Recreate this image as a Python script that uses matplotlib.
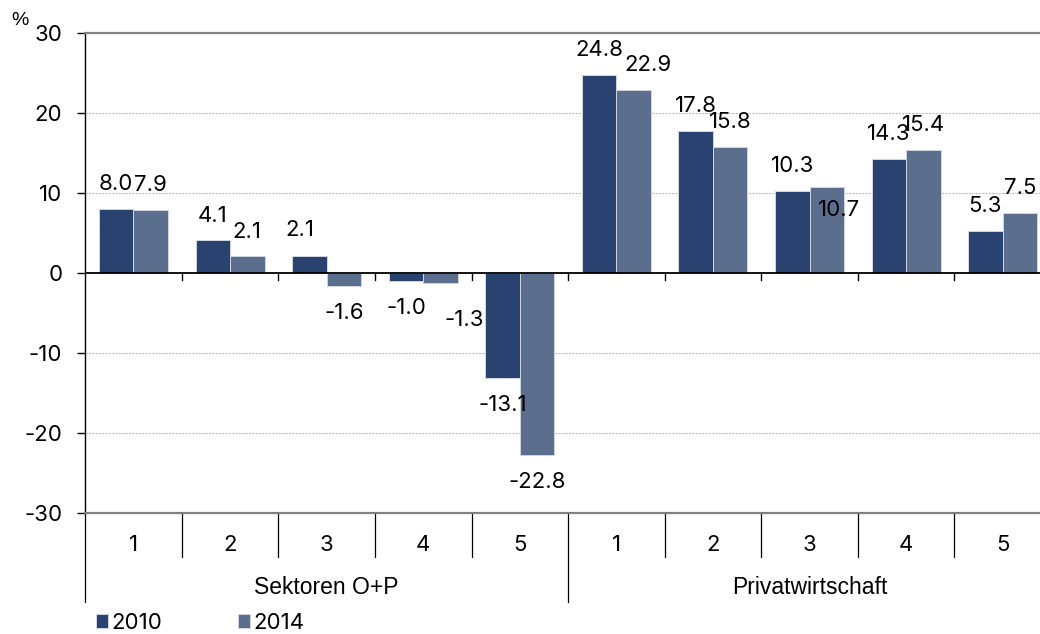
import matplotlib
matplotlib.use("Agg")
import matplotlib.pyplot as plt
import matplotlib.transforms as mtransforms
import numpy as np

plt.rcParams['font.family'] = ['Liberation Sans', 'DejaVu Sans']

# ---- data ----
groups = ["Sektoren O+P", "Privatwirtschaft"]
categories = ["1", "2", "3", "4", "5", "1", "2", "3", "4", "5"]
series_names = ["2010", "2014"]
values_2010 = [8.0, 4.1, 2.1, -1.0, -13.1, 24.8, 17.8, 10.3, 14.3, 5.3]
values_2014 = [7.9, 2.1, -1.6, -1.3, -22.8, 22.9, 15.8, 10.7, 15.4, 7.5]
yticks = [-30, -20, -10, 0, 10, 20, 30]

# ---- style ----
colors = ["#2A4270", "#5C6E8E"]
FS = 16.5
NUMFONT = ["Inter", "DejaVu Sans"]
NFS = 16
W, H = 1040, 634
# per-label pixel adjustments (series index, category index) -> (dx, dy)
label_adjust = {(0, 2): (-10, 2), (1, 5): (14, 0), (1, 7): (12, -47.5), (1, 3): (24, -9.5)}

fig = plt.figure(figsize=(W / 100, H / 100), dpi=100)
ax_left, ax_right, ax_top, ax_bottom = 85.2, 1051.0, 33.0, 513.0
ax = fig.add_axes([ax_left / W, 1 - ax_bottom / H, (ax_right - ax_left) / W, (ax_bottom - ax_top) / H])

n = len(categories)
x = np.arange(n)
bw = 0.357
allvals = [values_2010, values_2014]
offs = [-bw / 2, bw / 2]
for s, (vals, c, off) in enumerate(zip(allvals, colors, offs)):
    ax.bar(x + off, vals, width=bw, color=c, edgecolor="#d0d6e2", linewidth=0.7,
           label=series_names[s], zorder=3)
    for i, v in enumerate(vals):
        dx, dy = label_adjust.get((s, i), (0, 0))
        base = 24.5 if v >= 0 else -27
        ax.annotate(f"{v:.1f}", xy=(x[i] + off, v), xytext=(dx, base + dy),
                    textcoords="offset pixels", ha="center", va="center",
                    fontsize=NFS, family=NUMFONT, color="black", zorder=5, annotation_clip=False)

ax.set_xlim(-0.5, n - 0.5)
ax.set_ylim(-30, 30)
ax.set_yticks(yticks)
ax.set_yticklabels([str(t) for t in yticks], family=NUMFONT, fontsize=NFS)
ax.tick_params(axis="y", direction="out", length=6, width=1, pad=10.5, colors="black")
ax.tick_params(axis="x", bottom=False, labelbottom=False)

for t in [-20, -10, 10, 20]:
    ax.axhline(t, color="#bdbdbd", linestyle=(0, (2, 1)), linewidth=0.8, zorder=1)
ax.axhline(0, color="black", linewidth=1.3, zorder=4)

ax.spines["right"].set_visible(False)
ax.spines["top"].set_color("#808080")
ax.spines["top"].set_linewidth(1.6)
ax.spines["bottom"].set_color("#808080")
ax.spines["bottom"].set_linewidth(1.6)
ax.spines["left"].set_color("black")
ax.spines["left"].set_linewidth(1.0)

# small ticks on the zero line at category boundaries
for b in np.arange(0.5, n - 0.5, 1.0):
    ax.plot([b, b], [0, -0.85], color="black", linewidth=1.0, zorder=4, clip_on=False)

# category table below axis
trans = mtransforms.blended_transform_factory(ax.transData, ax.transAxes)
axh = ax_bottom - ax_top
inner = -(557 - ax_bottom) / axh
outer = -(602 - ax_bottom) / axh
ngrp = n // len(groups)
for b in np.arange(-0.5, n, 1.0):
    y1 = outer if (round(b + 0.5) % ngrp == 0) else inner
    ax.plot([b, b], [0, y1], color="black", linewidth=0.9, transform=trans, clip_on=False)
for i, c in enumerate(categories):
    ax.text(x[i], -(545 - ax_bottom) / axh, c, transform=trans, ha="center", va="center",
            fontsize=NFS, family=NUMFONT)
for g, name in enumerate(groups):
    ax.text(g * ngrp + (ngrp - 1) / 2, -(588 - ax_bottom) / axh, name, transform=trans,
            ha="center", va="center", fontsize=FS)

fig.text(19.5 / W, 1 - 20.5 / H, "%", ha="center", va="center", fontsize=14)

handles, labels = ax.get_legend_handles_labels()
fig.legend(handles, labels, loc="center left", bbox_to_anchor=(96 / W, 1 - 623 / H), ncol=2,
           frameon=False, prop={"family": NUMFONT, "size": NFS}, handlelength=0.55, handleheight=0.55,
           handletextpad=0.15, columnspacing=3.4, borderpad=0, borderaxespad=0)

fig.savefig("out.png", dpi=100)
